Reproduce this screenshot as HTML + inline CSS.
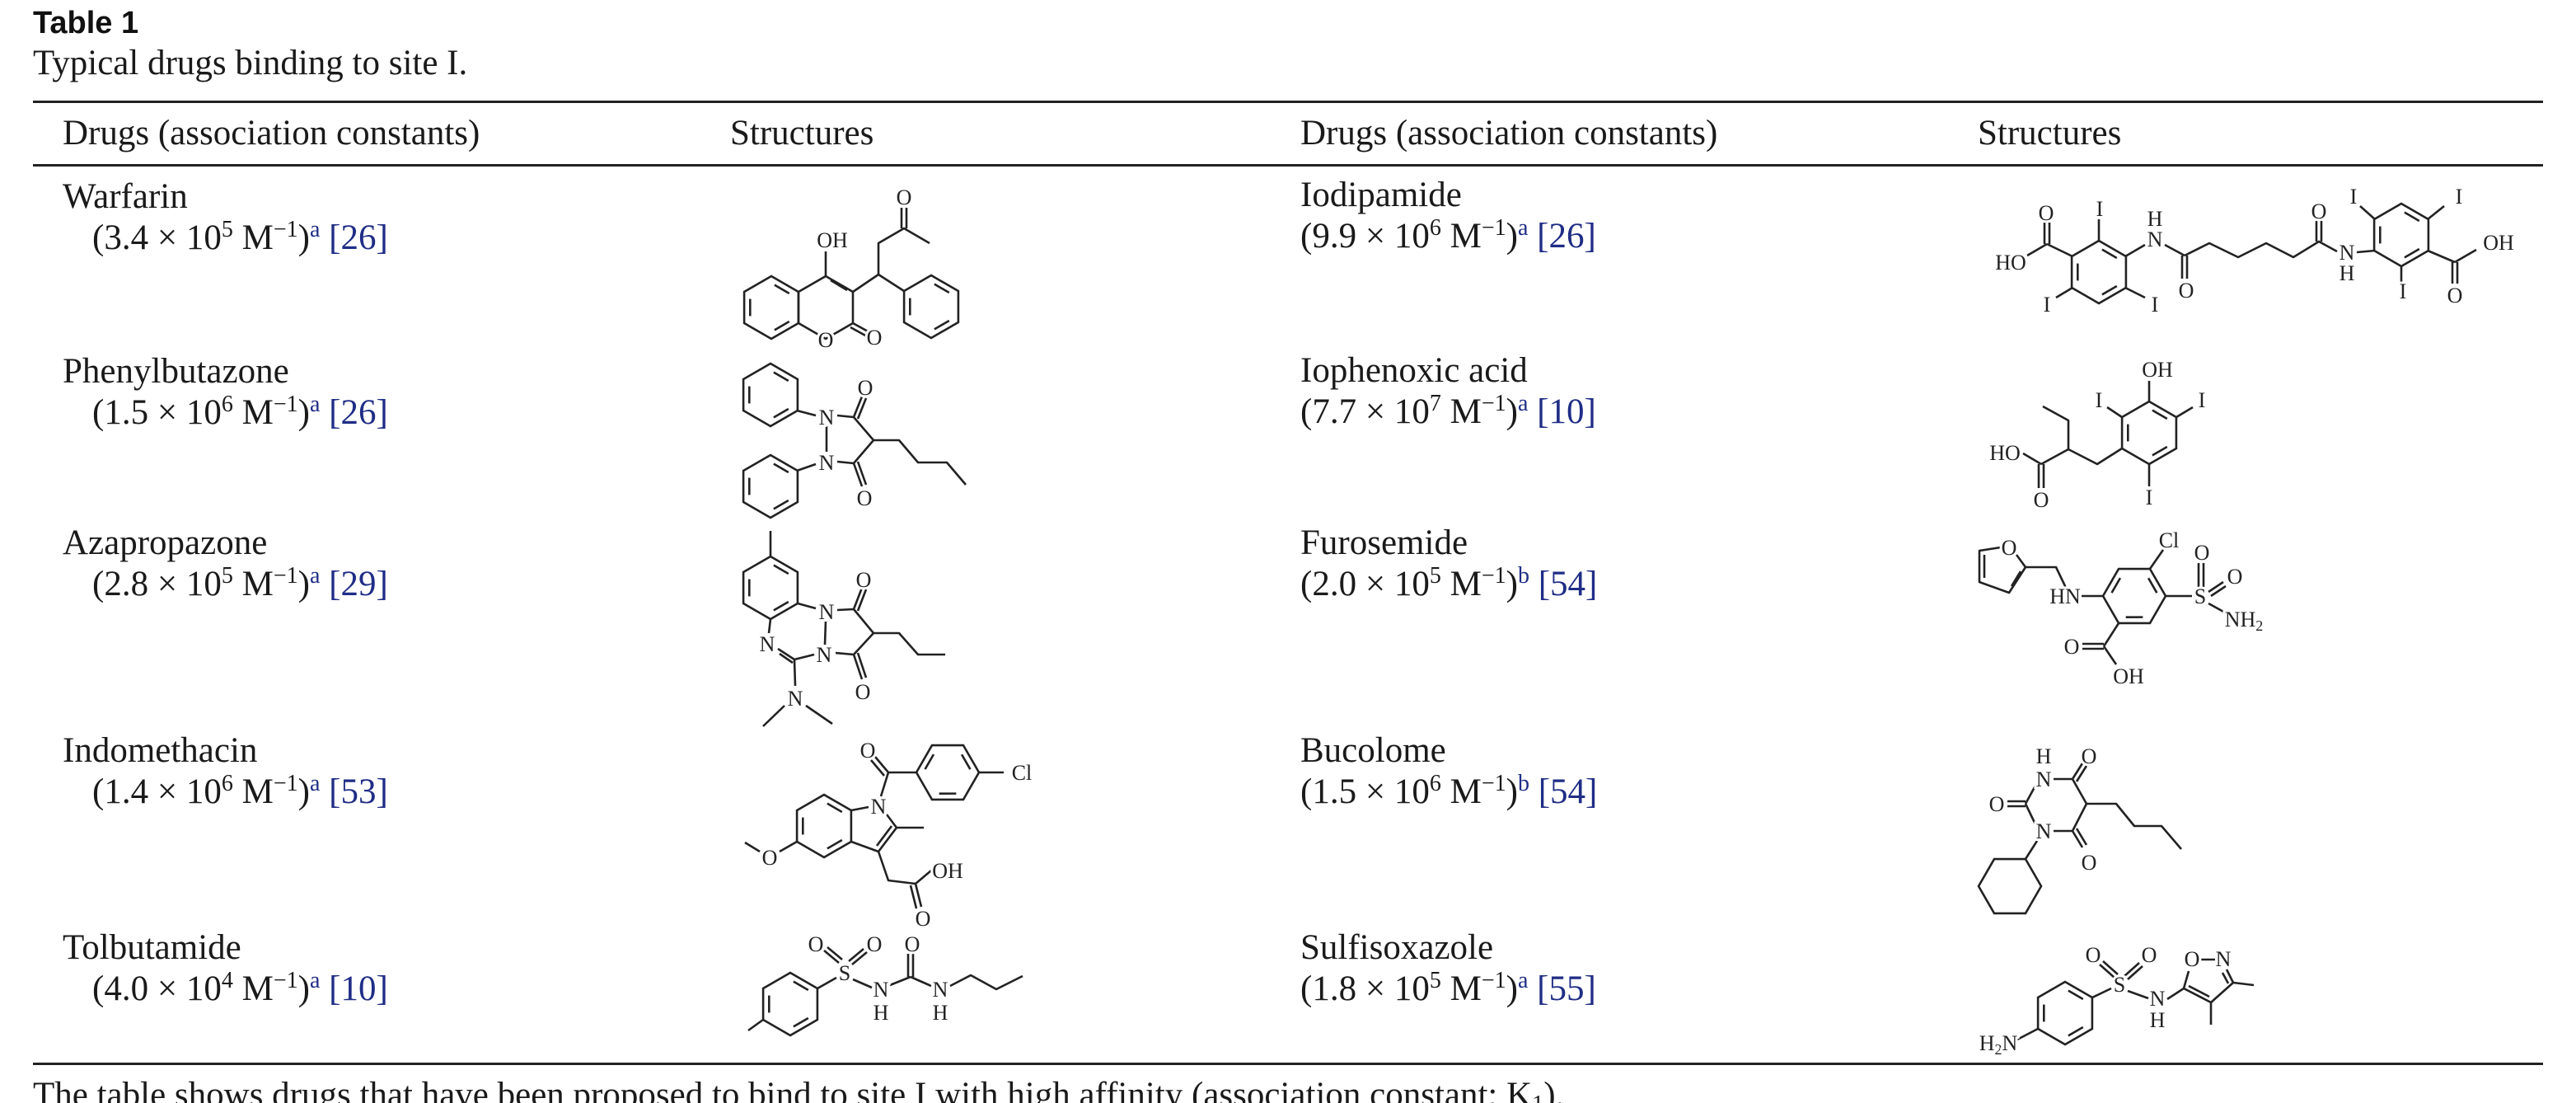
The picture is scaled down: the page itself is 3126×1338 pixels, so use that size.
<!DOCTYPE html>
<html><head><meta charset="utf-8"><style>
html,body{margin:0;padding:0;background:#fff;}
svg{display:block;}
.t{font-family:"Liberation Serif",serif;font-size:43px;fill:#1a1a1a;}
.a{font-family:"Liberation Serif",serif;font-size:26px;fill:#222;text-anchor:middle;stroke:#fff;stroke-width:6px;paint-order:stroke;}
.l{fill:#1f2d86;}
.b line,.b polyline,.b polygon{stroke:#222;stroke-width:2.6;fill:none;stroke-linejoin:round;}
</style></head><body>
<svg width="3126" height="1338" viewBox="0 0 3126 1338" xmlns="http://www.w3.org/2000/svg">
<defs>
<g id="bz"><polygon points="0,-38 32.9,-19 32.9,19 0,38 -32.9,19 -32.9,-19" style="stroke:#222;stroke-width:2.6;fill:none"/><line x1="3.9" y1="-27.4" x2="21.8" y2="-17" style="stroke:#222;stroke-width:2.6"/><line x1="21.8" y1="17" x2="3.9" y2="27.4" style="stroke:#222;stroke-width:2.6"/><line x1="-25.7" y1="10.4" x2="-25.7" y2="-10.4" style="stroke:#222;stroke-width:2.6"/></g>
<g id="hx"><polygon points="0,-38 32.9,-19 32.9,19 0,38 -32.9,19 -32.9,-19" style="stroke:#222;stroke-width:2.6;fill:none"/></g>
</defs>
<text x="40" y="40" style="font-family:'Liberation Sans',sans-serif;font-weight:bold;font-size:38px;fill:#111">Table 1</text>
<text class="t" x="40" y="90">Typical drugs binding to site I.</text>
<rect x="40" y="122" width="3046" height="3" fill="#222"/>
<text class="t" x="76" y="175">Drugs (association constants)</text>
<text class="t" x="886" y="175">Structures</text>
<text class="t" x="1578" y="175">Drugs (association constants)</text>
<text class="t" x="2400" y="175">Structures</text>
<rect x="40" y="199" width="3046" height="3" fill="#222"/>

<g class="t">
<text x="76" y="252">Warfarin</text>
<text x="112" y="302">(3.4 × 10<tspan dy="-15" font-size="28">5</tspan><tspan dy="15"> M</tspan><tspan dy="-15" font-size="28">−1</tspan><tspan dy="15">)</tspan><tspan class="l" dy="-15" font-size="28">a</tspan><tspan class="l" dy="15"> [26]</tspan></text>
<text x="76" y="464">Phenylbutazone</text>
<text x="112" y="514">(1.5 × 10<tspan dy="-15" font-size="28">6</tspan><tspan dy="15"> M</tspan><tspan dy="-15" font-size="28">−1</tspan><tspan dy="15">)</tspan><tspan class="l" dy="-15" font-size="28">a</tspan><tspan class="l" dy="15"> [26]</tspan></text>
<text x="76" y="672">Azapropazone</text>
<text x="112" y="722">(2.8 × 10<tspan dy="-15" font-size="28">5</tspan><tspan dy="15"> M</tspan><tspan dy="-15" font-size="28">−1</tspan><tspan dy="15">)</tspan><tspan class="l" dy="-15" font-size="28">a</tspan><tspan class="l" dy="15"> [29]</tspan></text>
<text x="76" y="924">Indomethacin</text>
<text x="112" y="974">(1.4 × 10<tspan dy="-15" font-size="28">6</tspan><tspan dy="15"> M</tspan><tspan dy="-15" font-size="28">−1</tspan><tspan dy="15">)</tspan><tspan class="l" dy="-15" font-size="28">a</tspan><tspan class="l" dy="15"> [53]</tspan></text>
<text x="76" y="1163">Tolbutamide</text>
<text x="112" y="1213">(4.0 × 10<tspan dy="-15" font-size="28">4</tspan><tspan dy="15"> M</tspan><tspan dy="-15" font-size="28">−1</tspan><tspan dy="15">)</tspan><tspan class="l" dy="-15" font-size="28">a</tspan><tspan class="l" dy="15"> [10]</tspan></text>

<text x="1578" y="250">Iodipamide</text>
<text x="1578" y="300">(9.9 × 10<tspan dy="-15" font-size="28">6</tspan><tspan dy="15"> M</tspan><tspan dy="-15" font-size="28">−1</tspan><tspan dy="15">)</tspan><tspan class="l" dy="-15" font-size="28">a</tspan><tspan class="l" dy="15"> [26]</tspan></text>
<text x="1578" y="463">Iophenoxic acid</text>
<text x="1578" y="513">(7.7 × 10<tspan dy="-15" font-size="28">7</tspan><tspan dy="15"> M</tspan><tspan dy="-15" font-size="28">−1</tspan><tspan dy="15">)</tspan><tspan class="l" dy="-15" font-size="28">a</tspan><tspan class="l" dy="15"> [10]</tspan></text>
<text x="1578" y="672">Furosemide</text>
<text x="1578" y="722">(2.0 × 10<tspan dy="-15" font-size="28">5</tspan><tspan dy="15"> M</tspan><tspan dy="-15" font-size="28">−1</tspan><tspan dy="15">)</tspan><tspan class="l" dy="-15" font-size="28">b</tspan><tspan class="l" dy="15"> [54]</tspan></text>
<text x="1578" y="924">Bucolome</text>
<text x="1578" y="974">(1.5 × 10<tspan dy="-15" font-size="28">6</tspan><tspan dy="15"> M</tspan><tspan dy="-15" font-size="28">−1</tspan><tspan dy="15">)</tspan><tspan class="l" dy="-15" font-size="28">b</tspan><tspan class="l" dy="15"> [54]</tspan></text>
<text x="1578" y="1163">Sulfisoxazole</text>
<text x="1578" y="1213">(1.8 × 10<tspan dy="-15" font-size="28">5</tspan><tspan dy="15"> M</tspan><tspan dy="-15" font-size="28">−1</tspan><tspan dy="15">)</tspan><tspan class="l" dy="-15" font-size="28">a</tspan><tspan class="l" dy="15"> [55]</tspan></text>
</g>

<rect x="40" y="1289" width="3046" height="3" fill="#222"/>
<text class="t" x="40" y="1342">The table shows drugs that have been proposed to bind to site I with high affinity (association constant: K<tspan dy="6" font-size="28">1</tspan><tspan dy="-6">).</tspan></text>

<!-- Warfarin -->
<g class="b">
<use href="#bz" transform="translate(936,373)"/>
<polygon points="1002,335 1035,354 1035,392 1002,411 969,392 969,354"/>
<line x1="1008" y1="340" x2="1028" y2="352"/>
<use href="#bz" transform="translate(1130,372)"/>
<polyline points="1035,354 1066,333 1097,353"/>
<polyline points="1066,333 1066,295 1097,277 1128,295"/>
<line x1="1094" y1="277" x2="1094" y2="252"/><line x1="1100" y1="277" x2="1100" y2="252"/>
<line x1="1002" y1="335" x2="1002" y2="305"/>
<line x1="1035" y1="392" x2="1055" y2="403"/><line x1="1032" y1="397" x2="1052" y2="408"/>
</g>
<text class="a" x="1097" y="248">O</text><text class="a" x="1010" y="300">OH</text>
<text class="a" x="1002" y="421">O</text><text class="a" x="1061" y="418">O</text>

<!-- Phenylbutazone -->
<g class="b">
<use href="#bz" transform="translate(935,479)"/>
<use href="#bz" transform="translate(935,590)"/>
<line x1="967" y1="498" x2="990" y2="504"/><line x1="967" y1="571" x2="990" y2="563"/>
<line x1="1003" y1="517" x2="1003" y2="548"/>
<polyline points="1016,504 1036,506 1060,534 1036,562 1016,560"/>
<line x1="1036" y1="506" x2="1046" y2="481"/><line x1="1041" y1="508" x2="1051" y2="483"/>
<line x1="1036" y1="562" x2="1046" y2="590"/><line x1="1041" y1="560" x2="1051" y2="588"/>
<polyline points="1060,534 1091,534 1114,561 1149,561 1172,588"/>
</g>
<text class="a" x="1003" y="515">N</text><text class="a" x="1003" y="570">N</text>
<text class="a" x="1050" y="479">O</text><text class="a" x="1049" y="613">O</text>

<!-- Azapropazone -->
<g class="b">
<line x1="935" y1="644" x2="935" y2="675"/>
<use href="#bz" transform="translate(935,713)"/>
<line x1="968" y1="732" x2="990" y2="738"/>
<line x1="935" y1="751" x2="933" y2="768"/>
<line x1="944" y1="787" x2="964" y2="800"/><line x1="946" y1="793" x2="962" y2="804"/>
<line x1="964" y1="800" x2="988" y2="794"/>
<line x1="1002" y1="753" x2="1001" y2="782"/>
<line x1="964" y1="800" x2="965" y2="832"/>
<line x1="952" y1="856" x2="926" y2="881"/><line x1="978" y1="856" x2="1010" y2="878"/>
<polyline points="1016,740 1036,739 1060,768 1036,794 1014,792"/>
<line x1="1036" y1="739" x2="1046" y2="713"/><line x1="1041" y1="741" x2="1051" y2="715"/>
<line x1="1036" y1="794" x2="1046" y2="824"/><line x1="1041" y1="792" x2="1051" y2="822"/>
<polyline points="1060,768 1091,768 1114,794 1147,794"/>
</g>
<text class="a" x="1003" y="751">N</text><text class="a" x="1000" y="803">N</text>
<text class="a" x="931" y="790">N</text><text class="a" x="965" y="856">N</text>
<text class="a" x="1048" y="712">O</text><text class="a" x="1047" y="848">O</text>

<!-- Indomethacin -->
<g class="b">
<use href="#bz" transform="translate(1000,1002)"/>
<line x1="1033" y1="983" x2="1054" y2="979"/>
<line x1="1076" y1="988" x2="1088" y2="1004"/>
<line x1="1088" y1="1004" x2="1066" y2="1033"/><line x1="1082" y1="1002" x2="1064" y2="1026"/>
<line x1="1066" y1="1033" x2="1033" y2="1021"/>
<line x1="1088" y1="1004" x2="1121" y2="1004"/>
<line x1="1069" y1="966" x2="1078" y2="937"/>
<line x1="1078" y1="937" x2="1062" y2="918"/><line x1="1073" y1="941" x2="1057" y2="922"/>
<line x1="1078" y1="937" x2="1112" y2="937"/>
<use href="#bz" transform="translate(1150,937) rotate(30)"/>
<line x1="1188" y1="937" x2="1218" y2="937"/>
<line x1="967" y1="1021" x2="946" y2="1033"/><line x1="922" y1="1033" x2="904" y2="1022"/>
<polyline points="1066,1033 1078,1068 1111,1072 1130,1056"/>
<line x1="1111" y1="1072" x2="1118" y2="1100"/><line x1="1105" y1="1074" x2="1112" y2="1102"/>
</g>
<text class="a" x="1066" y="987">N</text><text class="a" x="1053" y="919">O</text>
<text class="a" x="1240" y="946">Cl</text><text class="a" x="934" y="1049">O</text>
<text class="a" x="1150" y="1065">OH</text><text class="a" x="1120" y="1123">O</text>

<!-- Tolbutamide -->
<g class="b">
<use href="#bz" transform="translate(959,1218)"/>
<line x1="926" y1="1237" x2="908" y2="1250"/>
<line x1="992" y1="1199" x2="1015" y2="1186"/>
<line x1="1018" y1="1168" x2="1000" y2="1153"/><line x1="1022" y1="1164" x2="1004" y2="1149"/>
<line x1="1030" y1="1166" x2="1048" y2="1151"/><line x1="1034" y1="1170" x2="1052" y2="1155"/>
<line x1="1035" y1="1188" x2="1058" y2="1198"/>
<line x1="1080" y1="1195" x2="1105" y2="1185"/>
<line x1="1102" y1="1185" x2="1102" y2="1157"/><line x1="1108" y1="1185" x2="1108" y2="1157"/>
<line x1="1105" y1="1185" x2="1130" y2="1196"/>
<polyline points="1153,1196 1178,1183 1209,1200 1241,1184"/>
</g>
<text class="a" x="1025" y="1189">S</text><text class="a" x="990" y="1154">O</text><text class="a" x="1061" y="1154">O</text>
<text class="a" x="1107" y="1154">O</text>
<text class="a" x="1069" y="1209">N</text><text class="a" x="1069" y="1237">H</text>
<text class="a" x="1141" y="1209">N</text><text class="a" x="1141" y="1237">H</text>

<!-- Iodipamide -->
<g class="b">
<use href="#bz" transform="translate(2547,330)"/>
<line x1="2547" y1="293" x2="2547" y2="266"/>
<line x1="2515" y1="349" x2="2495" y2="361"/><line x1="2579" y1="349" x2="2603" y2="361"/>
<line x1="2515" y1="311" x2="2484" y2="296"/>
<line x1="2481" y1="296" x2="2481" y2="270"/><line x1="2487" y1="296" x2="2487" y2="270"/>
<line x1="2484" y1="296" x2="2460" y2="310"/>
<line x1="2579" y1="311" x2="2603" y2="297"/>
<line x1="2627" y1="297" x2="2651" y2="310"/>
<line x1="2648" y1="310" x2="2648" y2="338"/><line x1="2654" y1="310" x2="2654" y2="338"/>
<polyline points="2651,310 2681,295 2716,312 2750,295 2783,312 2814,293 2836,305"/>
<line x1="2811" y1="293" x2="2811" y2="268"/><line x1="2817" y1="293" x2="2817" y2="268"/>
<line x1="2860" y1="306" x2="2882" y2="304"/>
<use href="#bz" transform="translate(2914,285)"/>
<line x1="2882" y1="266" x2="2864" y2="250"/><line x1="2946" y1="266" x2="2966" y2="250"/>
<line x1="2914" y1="322" x2="2914" y2="343"/>
<line x1="2946" y1="304" x2="2979" y2="318"/>
<line x1="2979" y1="318" x2="3005" y2="303"/>
<line x1="2976" y1="318" x2="2976" y2="344"/><line x1="2982" y1="318" x2="2982" y2="344"/>
</g>
<text class="a" x="2548" y="262">I</text><text class="a" x="2484" y="378">I</text><text class="a" x="2615" y="378">I</text>
<text class="a" x="2483" y="267">O</text><text class="a" x="2440" y="327">HO</text>
<text class="a" x="2615" y="274">H</text><text class="a" x="2615" y="299">N</text>
<text class="a" x="2653" y="361">O</text><text class="a" x="2814" y="265">O</text>
<text class="a" x="2848" y="315">N</text><text class="a" x="2848" y="340">H</text>
<text class="a" x="2856" y="247">I</text><text class="a" x="2984" y="247">I</text><text class="a" x="2916" y="362">I</text>
<text class="a" x="3032" y="303">OH</text><text class="a" x="2979" y="367">O</text>

<!-- Iophenoxic acid -->
<g class="b">
<use href="#bz" transform="translate(2608,525)"/>
<line x1="2608" y1="487" x2="2608" y2="462"/>
<line x1="2575" y1="506" x2="2557" y2="494"/><line x1="2641" y1="506" x2="2661" y2="494"/>
<line x1="2608" y1="563" x2="2608" y2="590"/>
<polyline points="2575,544 2545,563 2510,545 2510,510 2479,493"/>
<line x1="2510" y1="545" x2="2477" y2="563"/>
<line x1="2477" y1="563" x2="2455" y2="550"/>
<line x1="2474" y1="563" x2="2474" y2="592"/><line x1="2480" y1="563" x2="2480" y2="592"/>
</g>
<text class="a" x="2618" y="457">OH</text><text class="a" x="2547" y="494">I</text><text class="a" x="2672" y="494">I</text>
<text class="a" x="2608" y="612">I</text><text class="a" x="2433" y="558">HO</text><text class="a" x="2477" y="615">O</text>

<!-- Furosemide -->
<g class="b">
<use href="#bz" transform="translate(2590,723) rotate(30)"/>
<line x1="2552" y1="723" x2="2526" y2="723"/>
<polyline points="2507,713 2495,688 2458,688"/>
<line x1="2458" y1="688" x2="2447" y2="673"/>
<polyline points="2428,664 2402,668 2402,706 2438,719 2458,688"/>
<line x1="2408" y1="673" x2="2408" y2="701"/><line x1="2441" y1="711" x2="2452" y2="693"/>
<line x1="2609" y1="690" x2="2625" y2="667"/>
<line x1="2628" y1="723" x2="2660" y2="723"/>
<line x1="2668" y1="713" x2="2668" y2="683"/><line x1="2674" y1="713" x2="2674" y2="683"/>
<line x1="2680" y1="718" x2="2698" y2="706"/><line x1="2683" y1="723" x2="2701" y2="711"/>
<line x1="2680" y1="732" x2="2700" y2="743"/>
<line x1="2571" y1="756" x2="2553" y2="784"/>
<line x1="2553" y1="781" x2="2527" y2="781"/><line x1="2553" y1="787" x2="2527" y2="787"/>
<line x1="2553" y1="784" x2="2568" y2="806"/>
</g>
<text class="a" x="2438" y="673">O</text><text class="a" x="2506" y="732">HN</text>
<text class="a" x="2632" y="664">Cl</text><text class="a" x="2670" y="732">S</text>
<text class="a" x="2672" y="679">O</text><text class="a" x="2712" y="708">O</text>
<text class="a" x="2723" y="760">NH<tspan font-size="18" dy="5">2</tspan></text>
<text class="a" x="2514" y="793">O</text><text class="a" x="2583" y="829">OH</text>

<!-- Bucolome -->
<g class="b">
<line x1="2492" y1="945" x2="2515" y2="945"/>
<polyline points="2515,945 2532,975 2515,1008 2492,1008"/>
<line x1="2470" y1="1000" x2="2458" y2="975"/><line x1="2458" y1="975" x2="2470" y2="953"/>
<line x1="2515" y1="945" x2="2527" y2="926"/><line x1="2520" y1="948" x2="2532" y2="929"/>
<line x1="2515" y1="1008" x2="2527" y2="1028"/><line x1="2520" y1="1005" x2="2532" y2="1025"/>
<line x1="2458" y1="972" x2="2436" y2="972"/><line x1="2458" y1="978" x2="2436" y2="978"/>
<polyline points="2532,975 2568,975 2590,1002 2623,1002 2647,1030"/>
<line x1="2472" y1="1020" x2="2458" y2="1042"/>
<use href="#hx" transform="translate(2439,1075) rotate(30)"/>
</g>
<text class="a" x="2480" y="926">H</text><text class="a" x="2480" y="954">N</text><text class="a" x="2480" y="1017">N</text>
<text class="a" x="2535" y="926">O</text><text class="a" x="2535" y="1055">O</text><text class="a" x="2423" y="984">O</text>

<!-- Sulfisoxazole -->
<g class="b">
<use href="#bz" transform="translate(2506,1229)"/>
<line x1="2473" y1="1248" x2="2448" y2="1261"/>
<line x1="2539" y1="1210" x2="2562" y2="1199"/>
<line x1="2566" y1="1186" x2="2548" y2="1170"/><line x1="2570" y1="1182" x2="2552" y2="1166"/>
<line x1="2578" y1="1184" x2="2596" y2="1168"/><line x1="2582" y1="1188" x2="2600" y2="1172"/>
<line x1="2582" y1="1202" x2="2607" y2="1211"/>
<line x1="2630" y1="1212" x2="2650" y2="1199"/>
<line x1="2650" y1="1199" x2="2656" y2="1178"/>
<line x1="2671" y1="1164" x2="2688" y2="1164"/>
<line x1="2702" y1="1176" x2="2710" y2="1192"/><line x1="2697" y1="1180" x2="2704" y2="1193"/>
<line x1="2710" y1="1192" x2="2683" y2="1216"/>
<line x1="2683" y1="1216" x2="2650" y2="1199"/><line x1="2681" y1="1209" x2="2656" y2="1196"/>
<line x1="2710" y1="1192" x2="2735" y2="1195"/><line x1="2683" y1="1216" x2="2683" y2="1243"/>
</g>
<text class="a" x="2425" y="1274">H<tspan font-size="18" dy="5">2</tspan><tspan dy="-5">N</tspan></text>
<text class="a" x="2572" y="1203">S</text><text class="a" x="2540" y="1167">O</text><text class="a" x="2608" y="1167">O</text>
<text class="a" x="2618" y="1220">N</text><text class="a" x="2618" y="1246">H</text>
<text class="a" x="2660" y="1172">O</text><text class="a" x="2698" y="1172">N</text>
</svg>
</body></html>
